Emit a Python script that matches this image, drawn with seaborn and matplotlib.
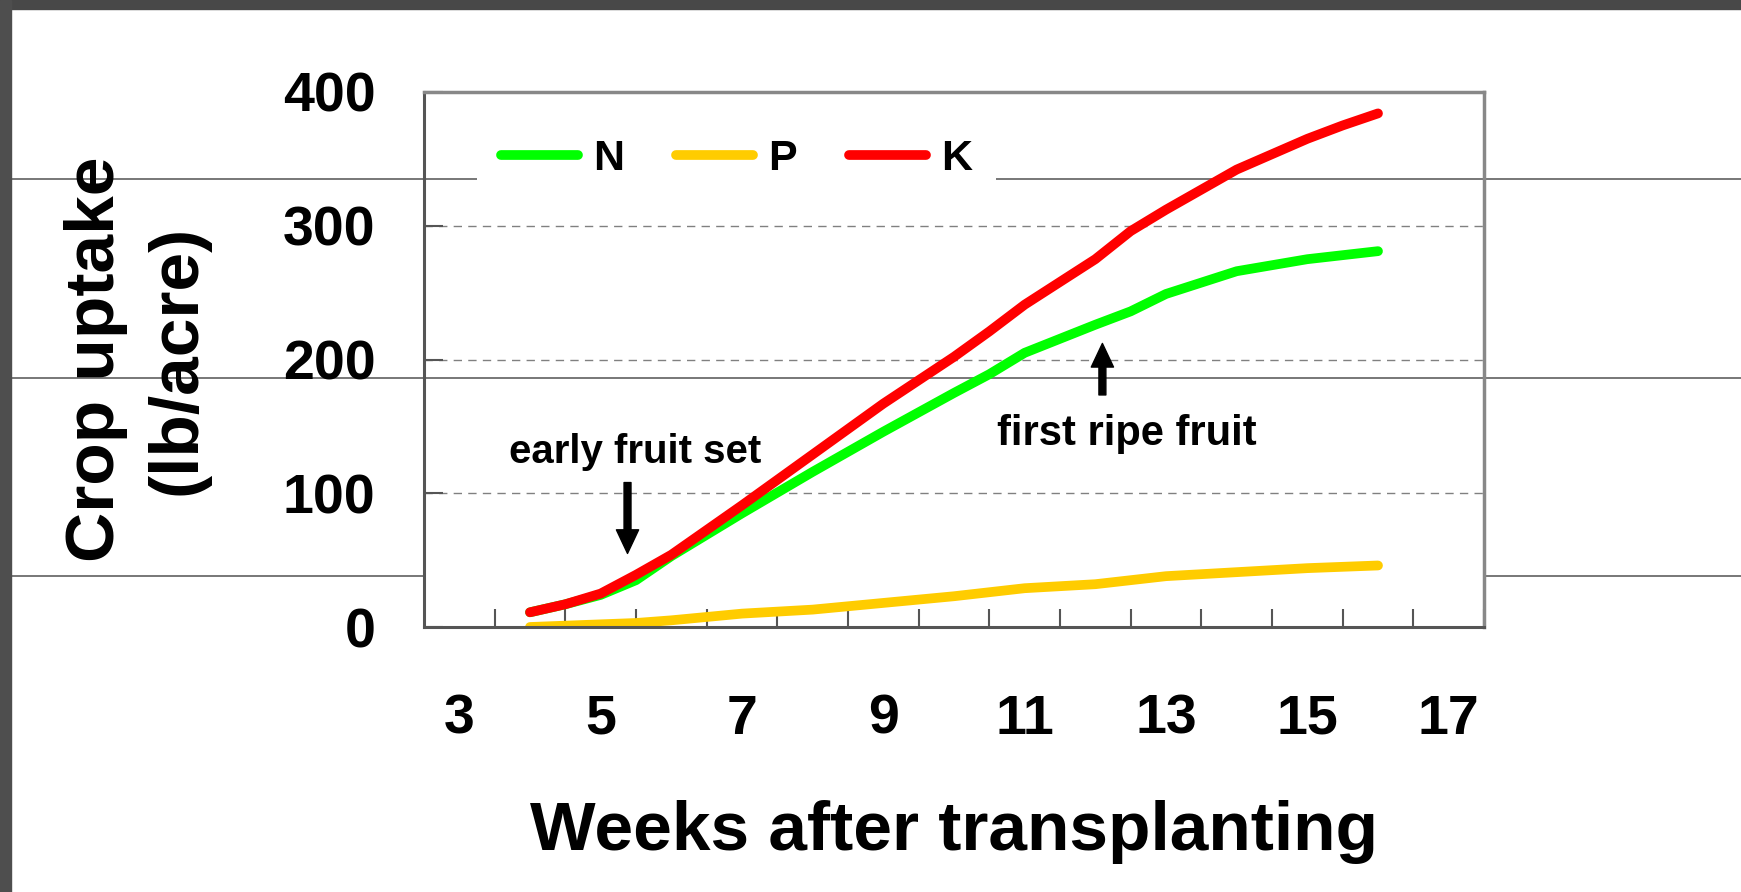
import matplotlib
matplotlib.use("Agg")
import matplotlib.pyplot as plt
from matplotlib.lines import Line2D
from matplotlib.patches import Rectangle
import numpy as np
import pandas as pd
import seaborn as sns

# %% Data
weeks = [4, 4.5, 5, 5.5, 6, 7, 8, 9, 10, 10.5, 11, 12, 12.5, 13, 14, 15, 15.5, 16]
n_uptake = [11, 17, 24, 35, 53, 85, 116, 146, 175, 189, 205, 226, 236, 249, 266, 275, 278, 281]
p_uptake = [0, 1, 2, 3, 5, 10, 13, 18, 23, 26, 29, 32, 35, 38, 41, 44, 45, 46]
k_uptake = [11, 17, 25, 39, 54, 91, 129, 167, 202, 221, 241, 275, 296, 312, 342, 365, 375, 384]

nutrients = ["N", "P", "K"]
colors = ["#00ff00", "#ffcc00", "#ff0000"]
x_ticks = [3, 5, 7, 9, 11, 13, 15, 17]
y_ticks = [0, 100, 200, 300, 400]

df = pd.DataFrame({
    "week": weeks * 3,
    "uptake": n_uptake + p_uptake + k_uptake,
    "nutrient": ["N"] * len(weeks) + ["P"] * len(weeks) + ["K"] * len(weeks),
})

# %% Style
sns.set_style("white")
plt.rcParams["font.family"] = ["Liberation Sans", "DejaVu Sans"]
plt.rcParams["font.weight"] = "bold"
plt.rcParams["text.color"] = "black"
plt.rcParams["axes.labelcolor"] = "black"
plt.rcParams["xtick.color"] = "black"
plt.rcParams["ytick.color"] = "black"

W, H = 1741, 892
fig = plt.figure(figsize=(W / 100, H / 100), dpi=100)
fig.patch.set_facecolor("white")

# slide decoration: dark frame and the ruled lines behind the chart
fig.add_artist(Rectangle((0, 1 - 9 / H), 1, 9 / H, transform=fig.transFigure,
                         color="#484848", zorder=5))
fig.add_artist(Rectangle((0, 0), 11 / W, 1, transform=fig.transFigure,
                         color="#4e4e4e", zorder=5))
for x0, x1, yp in [(11, W, 178.5), (11, W, 377.5), (11, 424, 575.5), (1484, W, 575.5)]:
    fig.add_artist(Line2D([x0 / W, x1 / W], [1 - yp / H] * 2, transform=fig.transFigure,
                          color="#606060", lw=1.2, zorder=-1))

ax = fig.add_axes([424 / W, 1 - 627 / H, 1060 / W, 535 / H])
ax.set_facecolor("none")

sns.lineplot(data=df, x="week", y="uptake", hue="nutrient", hue_order=nutrients,
             palette=colors, linewidth=7, solid_capstyle="round",
             errorbar=None, legend=False, ax=ax)

# %% Axes
ax.set_xlim(2.5, 17.5)
ax.set_ylim(0, 400)
ax.set_xticks(x_ticks)
ax.set_xticklabels([str(t) for t in x_ticks])
ax.set_xticks(np.arange(3.5, 17.6, 1), minor=True)
ax.set_yticks(y_ticks)
ax.tick_params(axis="x", which="both", bottom=True)
ax.tick_params(axis="y", which="major", left=True)
ax.tick_params(axis="x", which="major", length=0, pad=48, labelsize=40)
ax.tick_params(axis="x", which="minor", direction="in", length=13, width=1.5, color="#555555")
ax.tick_params(axis="y", direction="in", length=14, width=1.5, color="#555555",
               pad=35, labelsize=40)

ax.yaxis.grid(True, color="#808080", linestyle=(0, (6, 4.5)), linewidth=1)
ax.xaxis.grid(False)
ax.set_axisbelow(True)

for side in ["left", "bottom"]:
    ax.spines[side].set_color("#555555")
    ax.spines[side].set_linewidth(2.2)
for side in ["top", "right"]:
    ax.spines[side].set_color("#888888")
    ax.spines[side].set_linewidth(2.5)

ax.set_xlabel("Weeks after transplanting", fontsize=50, fontweight="bold", va="top")
ax.xaxis.set_label_coords(0.5, -0.323)
ax.set_ylabel("Crop uptake\n(lb/acre)", fontsize=50, fontweight="bold",
              linespacing=1.36, multialignment="center")
ax.yaxis.set_label_coords(-0.202, 0.5)

# legend
handles = [Line2D([], [], color=c, lw=7, solid_capstyle="round") for c in colors]
ax.legend(handles, nutrients, loc="center left", bbox_to_anchor=(0.05, 0.875),
          ncol=3, frameon=True, facecolor="white", edgecolor="none", framealpha=1,
          fancybox=False, fontsize=31, handlelength=1.8, handletextpad=0.35,
          columnspacing=1.2, borderpad=0.55, borderaxespad=0)

# annotations
arrow = dict(facecolor="black", edgecolor="black", width=5, headwidth=16,
             headlength=17, shrink=0)
ax.annotate("", xy=(5.38, 55), xytext=(5.38, 108), arrowprops=arrow)
ax.text(5.49, 122.6, "early fruit set", ha="center", va="baseline", fontsize=29)
ax.annotate("", xy=(12.10, 212), xytext=(12.10, 173.5), arrowprops=arrow)
ax.text(12.45, 136, "first ripe fruit", ha="center", va="baseline", fontsize=30)

fig.savefig("out.png", dpi=100)
